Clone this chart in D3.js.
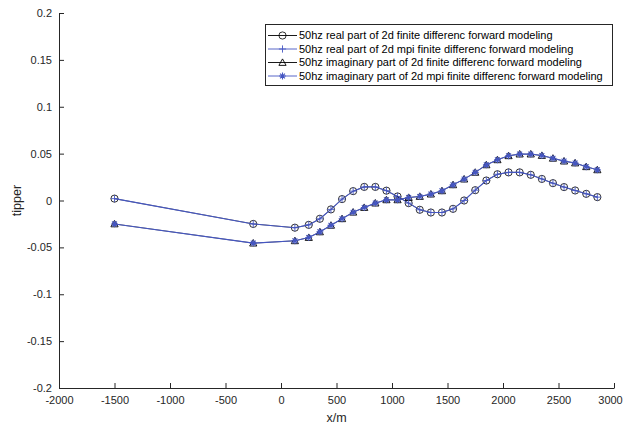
<!DOCTYPE html>
<html>
<head>
<meta charset="utf-8">
<script src="https://d3js.org/d3.v7.min.js"></script>
<style>
  body { margin: 0; padding: 0; background: #fff; }
  svg { font-family: "Liberation Sans", Arial, sans-serif; }
  .tick text { fill: #262626; font-size: 11px; }
  .domain, .tick line { stroke: #262626; }
</style>
</head>
<body>
<script>
// station positions (m)
var xPos = [-1500, -250, 125, 250, 350, 450, 550, 650, 750, 850, 950, 1050, 1150, 1250, 1350,
            1450, 1550, 1650, 1750, 1850, 1950, 2050, 2150, 2250, 2350, 2450, 2550, 2650, 2750, 2850];

var realFD = [0.002, -0.025, -0.029, -0.026, -0.0195, -0.0095, 0.0015, 0.0100, 0.0145, 0.0145, 0.0105,
              0.0043, -0.0028, -0.0099, -0.0128, -0.0128, -0.0089, 0.0000, 0.0110, 0.0213, 0.0280,
              0.0300, 0.0300, 0.0274, 0.0230, 0.0185, 0.0143, 0.0107, 0.0071, 0.0036];
var realMPI = [0.002, -0.025, -0.029, -0.026, -0.0195, -0.0095, 0.0015, 0.0100, 0.0145, 0.0145, 0.0105,
               0.0043, -0.0028, -0.0099, -0.0128, -0.0128, -0.0089, 0.0000, 0.0110, 0.0213, 0.0280,
               0.0300, 0.0300, 0.0274, 0.0230, 0.0185, 0.0143, 0.0107, 0.0071, 0.0036];
var imagFD = [-0.025, -0.0455, -0.0430, -0.0395, -0.0335, -0.0265, -0.0195, -0.0125, -0.0075, -0.0028, 0.0007,
              0.0007, 0.0032, 0.0043, 0.0068, 0.0103, 0.0167, 0.0228, 0.0300, 0.0380, 0.0434,
              0.0477, 0.0495, 0.0495, 0.0480, 0.0450, 0.0420, 0.0400, 0.0360, 0.0327];
var imagMPI = [-0.025, -0.0455, -0.0430, -0.0395, -0.0335, -0.0265, -0.0195, -0.0125, -0.0075, -0.0028, 0.0007,
               0.0007, 0.0032, 0.0043, 0.0068, 0.0103, 0.0167, 0.0228, 0.0300, 0.0380, 0.0434,
               0.0477, 0.0495, 0.0495, 0.0480, 0.0450, 0.0420, 0.0400, 0.0360, 0.0327];

var xTicks = [-2000, -1500, -1000, -500, 0, 500, 1000, 1500, 2000, 2500, 3000];
var yTicks = [-0.2, -0.15, -0.1, -0.05, 0, 0.05, 0.1, 0.15, 0.2];

var legendLabels = [
  "50hz real part of 2d finite differenc forward modeling",
  "50hz real part of 2d mpi finite differenc forward modeling",
  "50hz imaginary part of 2d finite differenc forward modeling",
  "50hz imaginary part of 2d mpi finite differenc forward modeling"
];

var blue = "#4556c2";
var black = "#000";

var width = 624, height = 428;
var mLeft = 59, mRight = 614, mTop = 13, mBottom = 388;

var svg = d3.select("body").append("svg")
  .attr("width", width)
  .attr("height", height);

var x = d3.scaleLinear().domain([-2000, 3000]).range([mLeft, mRight]);
var y = d3.scaleLinear().domain([-0.2, 0.2]).range([mBottom, mTop]);

// axes, ticks pointing inward like matlab
var xAxis = svg.append("g")
  .attr("transform", "translate(0," + mBottom + ")")
  .call(d3.axisBottom(x).tickValues(xTicks).tickSizeInner(-5).tickSizeOuter(0).tickPadding(8)
    .tickFormat(function(d) { return String(d); }));
// keep the last label inside the window
xAxis.selectAll(".tick text").filter(function(d) { return d === 3000; }).attr("dx", -4);

svg.append("g")
  .attr("transform", "translate(" + mLeft + ",0)")
  .call(d3.axisLeft(y).tickValues(yTicks).tickSizeInner(-5).tickSizeOuter(0).tickPadding(7)
    .tickFormat(function(d) { return String(+d.toFixed(2)); }));

svg.append("text")
  .attr("x", (mLeft + mRight) / 2)
  .attr("y", 422)
  .attr("text-anchor", "middle")
  .attr("font-size", 12.5)
  .attr("fill", "#262626")
  .text("x/m");

svg.append("text")
  .attr("transform", "translate(21," + ((mTop + mBottom) / 2) + ")rotate(-90)")
  .attr("text-anchor", "middle")
  .attr("font-size", 12.5)
  .attr("fill", "#262626")
  .text("tipper");

// marker drawing helpers
function drawMarker(g, type, cx, cy, color) {
  if (type === "circle") {
    g.append("circle").attr("cx", cx).attr("cy", cy).attr("r", 3.6)
      .attr("fill", "none").attr("stroke", color).attr("stroke-width", 0.8);
  } else if (type === "plus") {
    g.append("path").attr("d", "M" + (cx - 3.6) + "," + cy + "H" + (cx + 3.6) + "M" + cx + "," + (cy - 3.6) + "V" + (cy + 3.6))
      .attr("stroke", color).attr("stroke-width", 0.9).attr("fill", "none");
  } else if (type === "triangle") {
    var s = 3.6;
    g.append("path").attr("d", "M" + cx + "," + (cy - s) + "L" + (cx + s) + "," + (cy + s * 0.8) + "L" + (cx - s) + "," + (cy + s * 0.8) + "Z")
      .attr("stroke", color).attr("stroke-width", 0.9).attr("fill", "none");
  } else if (type === "star") {
    var r = 3.4, d = r * 0.72;
    g.append("path").attr("d",
        "M" + (cx - r) + "," + cy + "H" + (cx + r) +
        "M" + cx + "," + (cy - r) + "V" + (cy + r) +
        "M" + (cx - d) + "," + (cy - d) + "L" + (cx + d) + "," + (cy + d) +
        "M" + (cx - d) + "," + (cy + d) + "L" + (cx + d) + "," + (cy - d))
      .attr("stroke", color).attr("stroke-width", 1.1).attr("fill", "none");
  }
}

var series = [
  {values: realFD, color: black, marker: "circle", lw: 0.6},
  {values: realMPI, color: blue, marker: "plus", lw: 1.1},
  {values: imagFD, color: black, marker: "triangle", lw: 0.6},
  {values: imagMPI, color: blue, marker: "star", lw: 1.1}
];

var line = d3.line()
  .x(function(d) { return x(d[0]); })
  .y(function(d) { return y(d[1]); });

series.forEach(function(s) {
  var pts = xPos.map(function(xv, i) { return [xv, s.values[i]]; });
  var g = svg.append("g");
  g.append("path")
    .datum(pts)
    .attr("d", line)
    .attr("fill", "none")
    .attr("stroke", s.color)
    .attr("stroke-width", s.lw);
  pts.forEach(function(p) {
    drawMarker(g, s.marker, x(p[0]), y(p[1]), s.color);
  });
});

// legend
var lg = svg.append("g");
lg.append("rect")
  .attr("x", 265.5).attr("y", 24.5)
  .attr("width", 347).attr("height", 61)
  .attr("fill", "#fff").attr("stroke", "#262626").attr("stroke-width", 1);

series.forEach(function(s, i) {
  var ly = 35.5 + i * 13.5;
  lg.append("line")
    .attr("x1", 268).attr("x2", 297).attr("y1", ly).attr("y2", ly)
    .attr("stroke", s.color).attr("stroke-width", 0.9);
  drawMarker(lg, s.marker, 282.5, ly, s.color);
  lg.append("text")
    .attr("x", 299).attr("y", ly).attr("dy", "0.35em")
    .attr("font-size", 11)
    .attr("fill", "#000")
    .text(legendLabels[i]);
});
</script>
</body>
</html>
